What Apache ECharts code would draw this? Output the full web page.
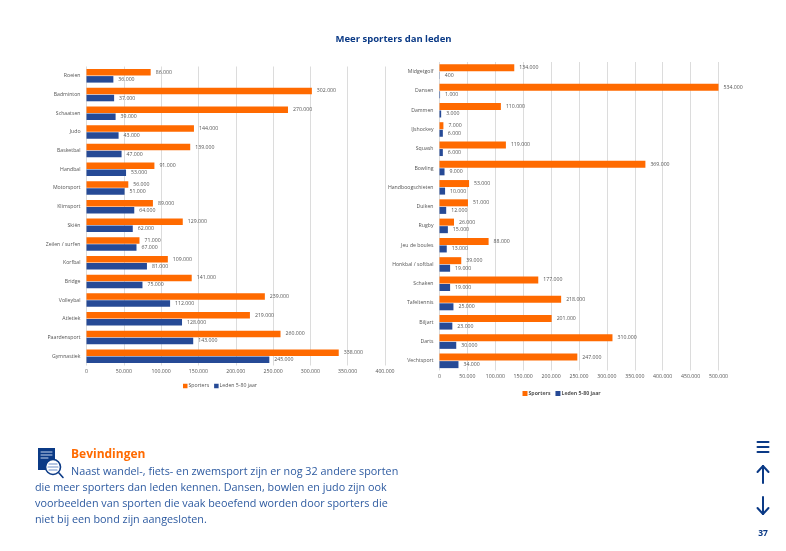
<!DOCTYPE html>
<html>
<head>
<meta charset="utf-8">
<style>html,body{margin:0;background:#fff}#chart{width:786px;height:551px}</style>
<script src="https://cdn.jsdelivr.net/npm/echarts@6/dist/echarts.min.js"></script>
</head>
<body>
<div id="chart"></div>
<script>
const leftCategories = ["Roeien","Badminton","Schaatsen","Judo","Basketbal","Handbal","Motorsport","Klimsport","Skiën","Zeilen / surfen","Korfbal","Bridge","Volleybal","Atletiek","Paardensport","Gymnastiek"];
const leftSporters = [86000,302000,270000,144000,139000,91000,56000,89000,129000,71000,109000,141000,239000,219000,260000,338000];
const leftLeden = [36000,37000,39000,43000,47000,53000,51000,64000,62000,67000,81000,75000,112000,128000,143000,245000];

const rightCategories = ["Midgetgolf","Dansen","Dammen","IJshockey","Squash","Bowling","Handboogschieten","Duiken","Rugby","Jeu de boules","Honkbal / softbal","Schaken","Tafeltennis","Biljart","Darts","Vechtsport"];
const rightSporters = [134000,534000,110000,7000,119000,369000,53000,51000,26000,88000,39000,177000,218000,201000,310000,247000];
const rightLeden = [400,1000,3000,6000,6000,9000,10000,12000,15000,13000,19000,19000,25000,23000,30000,34000];

const bodyLines = [
  "Naast wandel-, fiets- en zwemsport zijn er nog 32 andere sporten",
  "die meer sporters dan leden kennen. Dansen, bowlen en judo zijn ook",
  "voorbeelden van sporten die vaak beoefend worden door sporters die",
  "niet bij een bond zijn aangesloten."
];

const ORANGE = "#ff6a00", BLUE = "#264a96", NAVY = "#0b3a86", GREY = "#555555";
const FONT = "'Open Sans'";
const dots = v => String(v).replace(/\B(?=(\d{3})+$)/g, ".");

function barSeries(name, data, idx, color, barWidth) {
  return {
    type: "bar", name, data, xAxisIndex: idx, yAxisIndex: idx,
    barWidth, barGap: "8%", itemStyle: { color },
    label: { show: true, position: "right", distance: 5, color: GREY, fontSize: 5.2, fontFamily: FONT,
      formatter: p => dots(p.value) }
  };
}

function valueAxis(idx, max) {
  return {
    type: "value", gridIndex: idx, min: 0, max, interval: 50000,
    axisLine: { show: false }, axisTick: { show: false },
    axisLabel: { color: GREY, fontSize: 5.2, fontFamily: FONT, margin: 4, hideOverlap: false, formatter: dots },
    splitLine: { show: true, lineStyle: { color: "#dcdcdc", width: 1 } }
  };
}

function catAxis(idx, data) {
  return {
    type: "category", gridIndex: idx, data, inverse: true,
    axisLine: { show: false }, axisTick: { show: false },
    axisLabel: { color: GREY, fontSize: 5.2, fontFamily: FONT, margin: 6, interval: 0 }
  };
}

function line(x1, y1, x2, y2, width, color) {
  return { type: "line", shape: { x1, y1, x2, y2 }, style: { stroke: color || NAVY, lineWidth: width, lineCap: "round" }, z: 10 };
}

const graphic = [
  { type: "text", x: 393.5, y: 39.5, style: { text: "Meer sporters dan leden", fill: NAVY, font: "bold 9.5px " + FONT, textAlign: "center", textVerticalAlign: "middle" } },
  // icon
  { type: "rect", shape: { x: 38, y: 448, width: 17, height: 22 }, style: { fill: NAVY }, z: 10 },
  line(41, 452, 52, 452, 1, "#c9d6ee"), line(41, 455, 52, 455, 1, "#c9d6ee"), line(41, 458, 48, 458, 1, "#c9d6ee"),
  { type: "circle", shape: { cx: 53, cy: 467, r: 7.5 }, style: { fill: "#fff", stroke: NAVY, lineWidth: 1.6 }, z: 11 },
  Object.assign(line(49, 464, 57, 464, 1.2, "#6f8fca"), { z: 12 }),
  Object.assign(line(48, 467, 58, 467, 1.2, "#6f8fca"), { z: 12 }),
  Object.assign(line(49, 470, 57, 470, 1.2, "#6f8fca"), { z: 12 }),
  line(59, 473, 63, 477.5, 1.6),
  { type: "text", x: 71, y: 455, style: { text: "Bevindingen", fill: ORANGE, font: "bold 12px " + FONT, textVerticalAlign: "middle" } },
  // nav
  line(757.5, 442, 768.5, 442, 2), line(757.5, 447, 768.5, 447, 2), line(757.5, 452, 768.5, 452, 2),
  line(763, 466, 763, 483, 2), line(757.5, 472, 763, 466, 2), line(768.5, 472, 763, 466, 2),
  line(763, 497, 763, 514, 2), line(757.5, 508, 763, 514, 2), line(768.5, 508, 763, 514, 2),
  { type: "text", x: 763, y: 534, style: { text: "37", fill: NAVY, font: "bold 8.5px " + FONT, textAlign: "center", textVerticalAlign: "middle" } }
];
const bodyX = [71, 35, 35, 35], bodyY = [471.5, 487.5, 503.5, 519.5];
bodyLines.forEach((text, i) => graphic.push({
  type: "text", x: bodyX[i], y: bodyY[i],
  style: { text, fill: "#2d5aa0", font: "10.8px " + FONT, textVerticalAlign: "middle" }
}));

const chart = echarts.init(document.getElementById("chart"), null, { renderer: "canvas" });
chart.setOption({
  animation: false,
  backgroundColor: "#fff",
  grid: [
    { left: 86.5, width: 298.5, top: 66.5, height: 299 },
    { left: 439.5, width: 279, top: 62, height: 308.5 }
  ],
  xAxis: [valueAxis(0, 400000), valueAxis(1, 500000)],
  yAxis: [catAxis(0, leftCategories), catAxis(1, rightCategories)],
  legend: [
    { left: 178, top: 378.5, itemWidth: 4.5, itemHeight: 4.5, itemGap: 5, icon: "rect",
      textStyle: { color: GREY, fontSize: 5.2, fontFamily: FONT, padding: [0, 0, 0, -4] } },
    { left: 517.5, top: 386, itemWidth: 5, itemHeight: 5, itemGap: 5, icon: "rect",
      textStyle: { color: GREY, fontSize: 5.2, fontWeight: "bold", fontFamily: FONT, padding: [0, 0, 0, -4] } }
  ],
  series: [
    barSeries("Sporters", leftSporters, 0, ORANGE, 6.5),
    barSeries("Leden 5-80 jaar", leftLeden, 0, BLUE, 6.5),
    barSeries("Sporters", rightSporters, 1, ORANGE, 7),
    barSeries("Leden 5-80 jaar", rightLeden, 1, BLUE, 7)
  ],
  graphic
});
</script>
</body>
</html>
